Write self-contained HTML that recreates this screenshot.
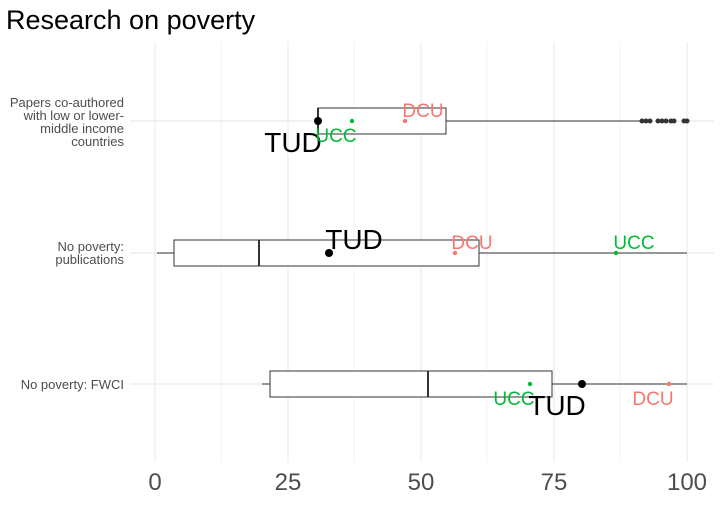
<!DOCTYPE html>
<html><head><meta charset="utf-8"><style>body{margin:0;background:#fff}</style></head><body>
<svg width="720" height="504" xmlns="http://www.w3.org/2000/svg" font-family="Liberation Sans, sans-serif">
<rect width="720" height="504" fill="#fff"/>
<text x="6" y="29" font-size="27" fill="#000">Research on poverty</text>
<g stroke="#ebebeb" stroke-width="0.6">
<line x1="221" y1="42" x2="221" y2="462"/><line x1="354" y1="42" x2="354" y2="462"/><line x1="487" y1="42" x2="487" y2="462"/><line x1="620" y1="42" x2="620" y2="462"/>
</g>
<g stroke="#ebebeb" stroke-width="1.2">
<line x1="155" y1="42" x2="155" y2="462"/><line x1="288" y1="42" x2="288" y2="462"/><line x1="421" y1="42" x2="421" y2="462"/><line x1="554" y1="42" x2="554" y2="462"/><line x1="687" y1="42" x2="687" y2="462"/>
<line x1="130" y1="121" x2="714" y2="121"/><line x1="130" y1="253" x2="714" y2="253"/><line x1="130" y1="384" x2="714" y2="384"/>
</g>
<g stroke="#333" fill="#fff" stroke-width="1">
<line x1="446" y1="121" x2="640" y2="121"/>
<rect x="318" y="108" width="128" height="26"/>
<line x1="318" y1="108" x2="318" y2="134" stroke-width="2"/>
<line x1="157" y1="253" x2="174" y2="253"/><line x1="479" y1="253" x2="687" y2="253"/>
<rect x="174" y="240" width="305" height="26"/>
<line x1="259" y1="240" x2="259" y2="266" stroke-width="2"/>
<line x1="262" y1="384" x2="270" y2="384"/><line x1="552" y1="384" x2="687" y2="384"/>
<rect x="270" y="371" width="282" height="26"/>
<line x1="428" y1="371" x2="428" y2="397" stroke-width="2"/>
</g>
<g fill="#333">
<circle cx="642" cy="121" r="2.5"/><circle cx="646" cy="121" r="2.5"/><circle cx="650" cy="121" r="2.5"/><circle cx="658" cy="121" r="2.5"/><circle cx="662" cy="121" r="2.5"/><circle cx="666" cy="121" r="2.5"/><circle cx="671" cy="121" r="2.5"/><circle cx="674" cy="121" r="2.5"/><circle cx="684" cy="121" r="2.5"/><circle cx="687" cy="121" r="2.5"/>
</g>
<circle cx="318" cy="121" r="4" fill="#000"/>
<circle cx="352" cy="121" r="2.2" fill="#00ba38"/>
<circle cx="405" cy="121" r="2.2" fill="#f8766d"/>
<circle cx="329" cy="253" r="4" fill="#000"/>
<circle cx="455" cy="253" r="2.2" fill="#f8766d"/>
<circle cx="616" cy="253" r="2.2" fill="#00ba38"/>
<circle cx="582" cy="384" r="4" fill="#000"/>
<circle cx="530" cy="384" r="2.2" fill="#00ba38"/>
<circle cx="669" cy="384" r="2.2" fill="#f8766d"/>
<g font-size="28" fill="#000" text-anchor="middle">
<text x="293" y="152">TUD</text><text x="354" y="249">TUD</text><text x="557" y="415">TUD</text>
</g>
<g font-size="19" text-anchor="middle">
<text x="336" y="142" fill="#00ba38">UCC</text><text x="423" y="117" fill="#f8766d">DCU</text>
<text x="472" y="249" fill="#f8766d">DCU</text><text x="634" y="249" fill="#00ba38">UCC</text>
<text x="514" y="405" fill="#00ba38">UCC</text><text x="653" y="405" fill="#f8766d">DCU</text>
</g>
<g font-size="13" fill="#4d4d4d" text-anchor="end">
<text x="124" y="107">Papers co-authored</text><text x="124" y="120">with low or lower-</text><text x="124" y="133">middle income</text><text x="124" y="146">countries</text>
<text x="124" y="251">No poverty:</text><text x="124" y="264">publications</text>
<text x="124" y="389">No poverty: FWCI</text>
</g>
<g font-size="24" fill="#4d4d4d" text-anchor="middle">
<text x="155" y="490">0</text><text x="288" y="490">25</text><text x="421" y="490">50</text><text x="554" y="490">75</text><text x="687" y="490">100</text>
</g>
</svg>
</body></html>
